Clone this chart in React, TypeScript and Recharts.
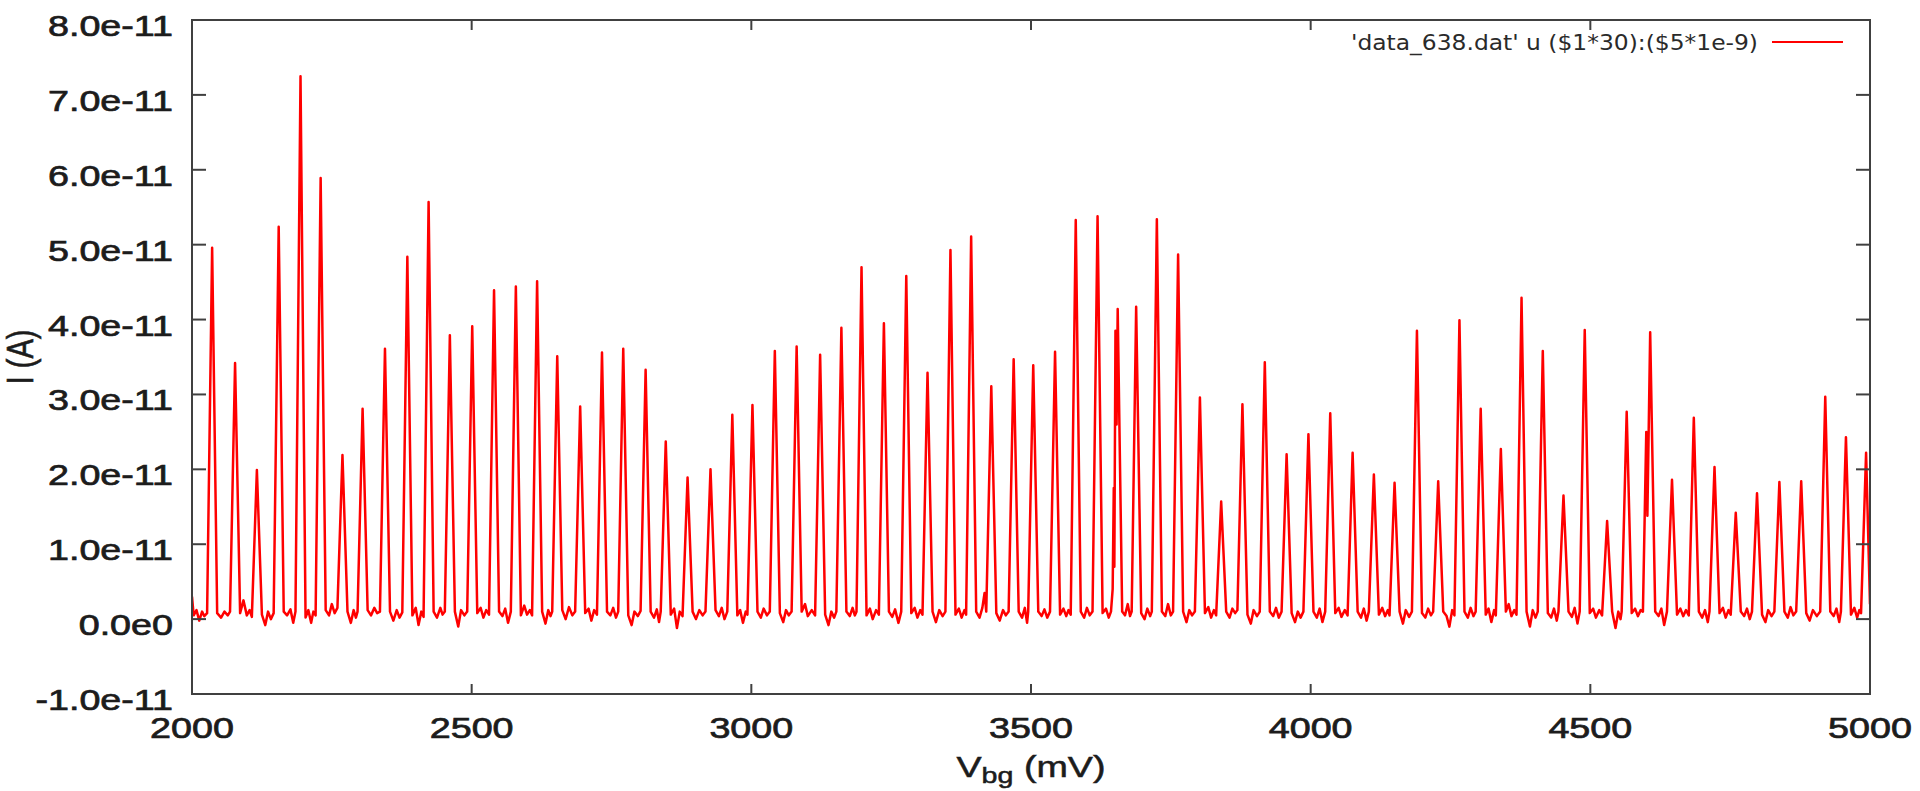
import { LineChart, Line, XAxis, YAxis, Legend } from "recharts";

// gate current I in units of 1e-11 A, back-gate voltage in mV
const TRACE_2000_2500: [number, number][] = [
  [2000,0.3],[2003,0.05],[2008,0.12],[2013,-0.02],[2018,0.1],[2022,0.04],[2027,0.08],
  [2036,4.96],[2045,0.08],[2052,0.02],[2058,0.1],[2064,0.05],[2068,0.1],
  [2077,3.42],[2086,0.08],[2092,0.25],[2098,0.05],[2103,0.12],[2107,0.03],
  [2116,1.99],[2125,0.06],[2131,-0.08],[2136,0.1],[2141,0.0],[2146,0.08],
  [2155,5.24],[2164,0.1],[2170,0.05],[2176,0.13],[2181,-0.05],[2185,0.1],
  [2194,7.25],[2203,0.02],[2208,0.12],[2213,-0.05],[2217,0.1],[2221,0.05],
  [2230,5.89],[2239,0.12],[2245,0.05],[2250,0.2],[2255,0.08],[2260,0.15],
  [2269,2.19],[2278,0.1],[2284,-0.05],[2289,0.12],[2293,0.02],[2296,0.1],
  [2305,2.81],[2314,0.12],[2320,0.05],[2326,0.15],[2331,0.08],[2336,0.1],
  [2345,3.61],[2354,0.1],[2360,-0.02],[2366,0.12],[2371,0.02],[2376,0.09],
  [2385,4.84],[2394,0.05],[2400,0.15],[2405,-0.08],[2410,0.1],[2414,0.03],
  [2423,5.57],[2432,0.1],[2438,0.02],[2444,0.15],[2448,0.06],[2452,0.1],
  [2461,3.79],[2470,0.1],[2476,-0.1],[2481,0.12],[2487,0.05],[2492,0.1],
];

const TRACE_2500_3000: [number, number][] = [
  [2501,3.91],[2510,0.08],[2516,0.15],[2521,0.02],[2526,0.12],[2531,0.06],
  [2540,4.39],[2549,0.1],[2555,0.04],[2560,0.14],[2565,-0.05],[2570,0.1],
  [2579,4.44],[2588,0.05],[2594,0.18],[2599,0.06],[2604,0.12],[2608,0.05],
  [2617,4.51],[2626,0.1],[2632,-0.06],[2637,0.12],[2641,0.04],[2644,0.1],
  [2653,3.51],[2662,0.12],[2668,0.0],[2674,0.16],[2680,0.05],[2685,0.1],
  [2694,2.84],[2703,0.08],[2709,0.14],[2714,-0.02],[2719,0.12],[2724,0.06],
  [2733,3.56],[2742,0.1],[2748,0.05],[2753,0.15],[2758,0.02],[2762,0.1],
  [2771,3.61],[2780,0.05],[2786,-0.08],[2791,0.1],[2797,0.04],[2802,0.11],
  [2811,3.33],[2820,0.1],[2826,0.02],[2831,0.13],[2835,-0.04],[2838,0.1],
  [2847,2.37],[2856,0.06],[2862,0.14],[2867,-0.12],[2872,0.1],[2877,0.04],
  [2886,1.89],[2895,0.1],[2901,0.0],[2907,0.12],[2913,0.05],[2918,0.1],
  [2927,2.0],[2936,0.12],[2942,0.04],[2947,0.15],[2952,0.0],[2957,0.1],
  [2966,2.73],[2975,0.05],[2980,0.12],[2985,-0.05],[2990,0.1],[2993,0.06],
];

const TRACE_3000_3500: [number, number][] = [
  [3002,2.86],[3011,0.1],[3017,0.02],[3022,0.14],[3028,0.05],[3033,0.1],
  [3042,3.58],[3051,0.08],[3057,-0.04],[3062,0.12],[3067,0.05],[3072,0.1],
  [3081,3.64],[3090,0.1],[3096,0.2],[3101,0.04],[3108,0.12],[3114,0.05],
  [3123,3.53],[3132,0.06],[3138,-0.08],[3143,0.1],[3148,0.02],[3152,0.1],
  [3161,3.89],[3170,0.1],[3176,0.04],[3181,0.15],[3185,0.05],[3188,0.1],
  [3197,4.7],[3206,0.05],[3212,0.14],[3217,0.0],[3223,0.12],[3228,0.06],
  [3237,3.95],[3246,0.1],[3252,0.03],[3257,0.13],[3263,-0.05],[3268,0.1],
  [3277,4.58],[3286,0.08],[3292,0.15],[3297,0.02],[3302,0.12],[3306,0.06],
  [3315,3.29],[3324,0.1],[3330,-0.04],[3336,0.12],[3342,0.04],[3347,0.1],
  [3356,4.93],[3365,0.06],[3371,0.14],[3376,0.02],[3381,0.12],[3384,0.06],
  [3393,5.11],[3402,0.1],[3408,0.02],[3413,0.15],[3417,0.35],[3420,0.1],
  [3429,3.11],[3438,0.08],[3444,-0.02],[3450,0.12],[3455,0.05],[3460,0.1],
  [3469,3.47],[3478,0.1],[3484,0.02],[3489,0.15],[3493,-0.05],[3495,0.1],
];

const TRACE_3500_4000: [number, number][] = [
  [3504,3.39],[3513,0.1],[3519,0.04],[3524,0.13],[3529,0.02],[3534,0.1],
  [3543,3.57],[3552,0.06],[3558,0.14],[3563,0.04],[3567,0.12],[3571,0.06],
  [3580,5.33],[3589,0.1],[3595,0.02],[3600,0.15],[3605,0.05],[3610,0.1],
  [3619,5.38],[3628,0.08],[3634,0.14],[3639,0.02],[3643,0.1],[3646,0.4],
  [3648,1.75],[3649,0.7],[3651,3.85],[3653,2.6],[3655,4.14],[3663,0.1],
  [3668,0.05],[3673,0.2],[3677,0.04],[3680,0.1],
  [3688,4.17],[3697,0.08],[3703,0.0],[3708,0.14],[3713,0.04],[3716,0.1],
  [3725,5.34],[3734,0.1],[3740,0.04],[3745,0.2],[3750,0.05],[3754,0.1],
  [3763,4.87],[3772,0.1],[3778,-0.04],[3783,0.12],[3788,0.05],[3793,0.1],
  [3802,2.96],[3811,0.08],[3817,0.16],[3822,0.02],[3827,0.12],[3831,0.05],
  [3840,1.57],[3849,0.1],[3855,0.02],[3860,0.14],[3865,0.08],[3869,0.12],
  [3878,2.87],[3887,0.06],[3893,-0.06],[3898,0.12],[3904,0.04],[3909,0.1],
  [3918,3.43],[3927,0.1],[3933,0.04],[3938,0.15],[3943,0.02],[3948,0.1],
  [3957,2.2],[3966,0.08],[3972,-0.04],[3977,0.1],[3982,0.02],[3987,0.1],
  [3996,2.47],
];

const TRACE_4000_4500: [number, number][] = [
  [4005,0.1],[4011,0.02],[4016,0.14],[4021,-0.04],[4026,0.1],
  [4035,2.75],[4044,0.08],[4050,0.15],[4055,0.03],[4061,0.12],[4066,0.05],
  [4075,2.22],[4084,0.1],[4090,0.02],[4095,0.14],[4100,-0.02],[4104,0.1],
  [4113,1.93],[4122,0.06],[4128,0.15],[4133,0.04],[4138,0.12],[4141,0.05],
  [4150,1.82],[4159,0.1],[4165,-0.06],[4170,0.12],[4176,0.03],[4181,0.1],
  [4190,3.85],[4199,0.08],[4205,0.02],[4210,0.14],[4215,0.05],[4219,0.1],
  [4228,1.84],[4237,0.1],[4243,0.04],[4248,-0.1],[4253,0.12],[4257,0.05],
  [4266,3.99],[4275,0.1],[4281,0.02],[4286,0.15],[4291,0.04],[4295,0.1],
  [4304,2.81],[4313,0.06],[4318,0.14],[4323,-0.04],[4328,0.12],[4331,0.05],
  [4340,2.27],[4349,0.1],[4354,0.2],[4359,0.04],[4364,0.12],[4368,0.06],
  [4377,4.29],[4386,0.1],[4392,-0.1],[4397,0.12],[4402,0.02],[4406,0.1],
  [4415,3.58],[4424,0.08],[4430,0.02],[4435,0.14],[4440,-0.02],[4443,0.1],
  [4452,1.65],[4461,0.1],[4467,0.03],[4472,0.15],[4477,-0.06],[4481,0.1],
  [4490,3.86],
];

const TRACE_4500_5000: [number, number][] = [
  [4499,0.08],[4505,0.14],[4510,0.02],[4516,0.12],[4521,0.05],
  [4530,1.31],[4539,0.1],[4545,-0.12],[4550,0.1],[4554,0.0],[4556,0.1],
  [4565,2.77],[4574,0.08],[4580,0.14],[4585,0.04],[4590,0.12],[4594,0.1],
  [4600,2.5],[4602,1.38],[4607,3.83],[4616,0.1],[4622,0.04],[4627,0.14],
  [4632,-0.08],[4637,0.1],
  [4646,1.86],[4655,0.06],[4661,0.14],[4666,0.04],[4671,0.12],[4676,0.05],
  [4685,2.69],[4694,0.1],[4700,0.02],[4705,0.12],[4710,-0.04],[4713,0.1],
  [4722,2.03],[4731,0.08],[4737,0.15],[4742,0.02],[4747,0.12],[4751,0.06],
  [4760,1.42],[4769,0.1],[4775,0.04],[4780,0.14],[4785,0.0],[4789,0.1],
  [4798,1.68],[4807,0.06],[4813,-0.04],[4818,0.12],[4824,0.04],[4829,0.1],
  [4838,1.83],[4847,0.1],[4853,0.02],[4858,0.16],[4863,0.05],[4868,0.1],
  [4877,1.84],[4886,0.08],[4892,-0.02],[4898,0.12],[4905,0.04],[4911,0.1],
  [4920,2.97],[4929,0.1],[4935,0.04],[4940,0.14],[4945,-0.04],[4948,0.1],
  [4957,2.43],[4966,0.06],[4972,0.15],[4977,0.02],[4981,0.12],[4984,0.08],
  [4993,2.22],[5000,0.2],
];

const X_TICKS = [2000, 2500, 3000, 3500, 4000, 4500, 5000];
const Y_TICKS = [-1, 0, 1, 2, 3, 4, 5, 6, 7, 8];
const Y_TICK_LABELS = [
  "-1.0e-11", "0.0e0", "1.0e-11", "2.0e-11", "3.0e-11",
  "4.0e-11", "5.0e-11", "6.0e-11", "7.0e-11", "8.0e-11",
];
const SERIES_NAME = "'data_638.dat' u ($1*30):($5*1e-9)";

const data = [
  ...TRACE_2000_2500, ...TRACE_2500_3000, ...TRACE_3000_3500,
  ...TRACE_3500_4000, ...TRACE_4000_4500, ...TRACE_4500_5000,
].map(([v, i]) => ({ v, i }));

const FRAME = "#404040";
const TEXT = "#1c1c1c";
const FONT = "'Liberation Sans', Arial, sans-serif";
const STRETCH = 1.3; // the source image is stretched sideways

const BottomTick = ({ x, y, payload }: any) => (
  <g>
    <line x1={x} y1={y} x2={x} y2={y - 10} stroke={FRAME} strokeWidth={2} />
    <text
      transform={`translate(${x},${y + 44}) scale(${STRETCH},1)`}
      textAnchor="middle" fontFamily={FONT} fontSize={29} fill={TEXT}
      stroke={TEXT} strokeWidth={0.7}
    >
      {payload.value}
    </text>
  </g>
);

const TopTick = ({ x, y }: any) => (
  <line x1={x} y1={y} x2={x} y2={y + 10} stroke={FRAME} strokeWidth={2} />
);

const LeftTick = ({ x, y, payload }: any) => (
  <g>
    <line x1={x} y1={y} x2={x + 14} y2={y} stroke={FRAME} strokeWidth={2} />
    <text
      transform={`translate(${x - 19},${y + 16}) scale(${STRETCH},1)`}
      textAnchor="end" fontFamily={FONT} fontSize={29} fill={TEXT}
      stroke={TEXT} strokeWidth={0.7}
    >
      {Y_TICK_LABELS[Y_TICKS.indexOf(payload.value)]}
    </text>
  </g>
);

const RightTick = ({ x, y }: any) => (
  <line x1={x} y1={y} x2={x - 14} y2={y} stroke={FRAME} strokeWidth={2} />
);

const XTitle = ({ viewBox }: any) => {
  const cx = viewBox.x + viewBox.width / 2;
  return (
    <text
      transform={`translate(${cx},${viewBox.y + 83}) scale(${STRETCH},1)`}
      textAnchor="middle" fontFamily={FONT} fontSize={29} fill={TEXT}
      stroke={TEXT} strokeWidth={0.5}
    >
      V<tspan fontSize={22} dy={6}>bg</tspan><tspan dy={-6}> (mV)</tspan>
    </text>
  );
};

const YTitle = ({ viewBox }: any) => {
  const cy = viewBox.y + viewBox.height / 2;
  return (
    <text
      transform={`translate(${viewBox.x + 33},${cy}) scale(${STRETCH},1) rotate(-90)`}
      textAnchor="middle" fontFamily={FONT} fontSize={29} fill={TEXT}
      stroke={TEXT} strokeWidth={0.5}
    >
      I (A)
    </text>
  );
};

const renderLegend = ({ payload }: any) => {
  const item = payload?.[0];
  if (!item) return null;
  return (
    <svg width={600} height={80} style={{ display: "block" }}>
      <text
        x={458} y={50} textAnchor="end" fontFamily="'DejaVu Sans', Verdana, sans-serif"
        fontSize={21} fill="#2a2a2a" textLength={407} lengthAdjust="spacingAndGlyphs"
      >
        {item.value}
      </text>
      <line x1={472} y1={42} x2={543} y2={42} stroke={item.color} strokeWidth={2} />
    </svg>
  );
};

export default function App() {
  return (
    <div style={{ width: 1920, height: 791, background: "#fff", position: "relative" }}>
      <style>{"body{margin:0}"}</style>
      <LineChart width={1920} height={791} data={data} margin={{ top: 0, right: 0, bottom: 0, left: 0 }}>
        <XAxis
          xAxisId="bottom" dataKey="v" type="number" domain={[2000, 5000]} ticks={X_TICKS}
          interval={0} allowDataOverflow height={97} tickSize={0} tickMargin={0} tickLine={false}
          axisLine={{ stroke: FRAME, strokeWidth: 2, strokeLinecap: "square" }}
          tick={<BottomTick />} label={XTitle}
        />
        <XAxis
          xAxisId="top" orientation="top" dataKey="v" type="number" domain={[2000, 5000]}
          ticks={X_TICKS} interval={0} allowDataOverflow height={20} tickSize={0} tickMargin={0}
          tickLine={false} axisLine={{ stroke: FRAME, strokeWidth: 2, strokeLinecap: "square" }}
          tick={<TopTick />}
        />
        <YAxis
          yAxisId="left" type="number" domain={[-1, 8]} ticks={Y_TICKS} interval={0}
          allowDataOverflow width={192} tickSize={0} tickMargin={0} tickLine={false}
          axisLine={{ stroke: FRAME, strokeWidth: 2, strokeLinecap: "square" }}
          tick={<LeftTick />} label={YTitle}
        />
        <YAxis
          yAxisId="right" orientation="right" type="number" domain={[-1, 8]} ticks={Y_TICKS}
          interval={0} allowDataOverflow width={50} tickSize={0} tickMargin={0} tickLine={false}
          axisLine={{ stroke: FRAME, strokeWidth: 2, strokeLinecap: "square" }}
          tick={<RightTick />}
        />
        <Legend
          layout="vertical" align="center" verticalAlign="middle" content={renderLegend}
          wrapperStyle={{ position: "absolute", top: 0, left: 1300, width: 600, height: 80 }}
        />
        <Line
          xAxisId="bottom" yAxisId="left" type="linear" dataKey="i" name={SERIES_NAME}
          stroke="#ff0000" strokeWidth={2.5} strokeLinejoin="round" dot={false} activeDot={false}
          isAnimationActive={false}
        />
        <Line
          xAxisId="top" yAxisId="right" type="linear" dataKey="i" stroke="none"
          legendType="none" dot={false} activeDot={false} isAnimationActive={false}
        />
      </LineChart>
    </div>
  );
}
